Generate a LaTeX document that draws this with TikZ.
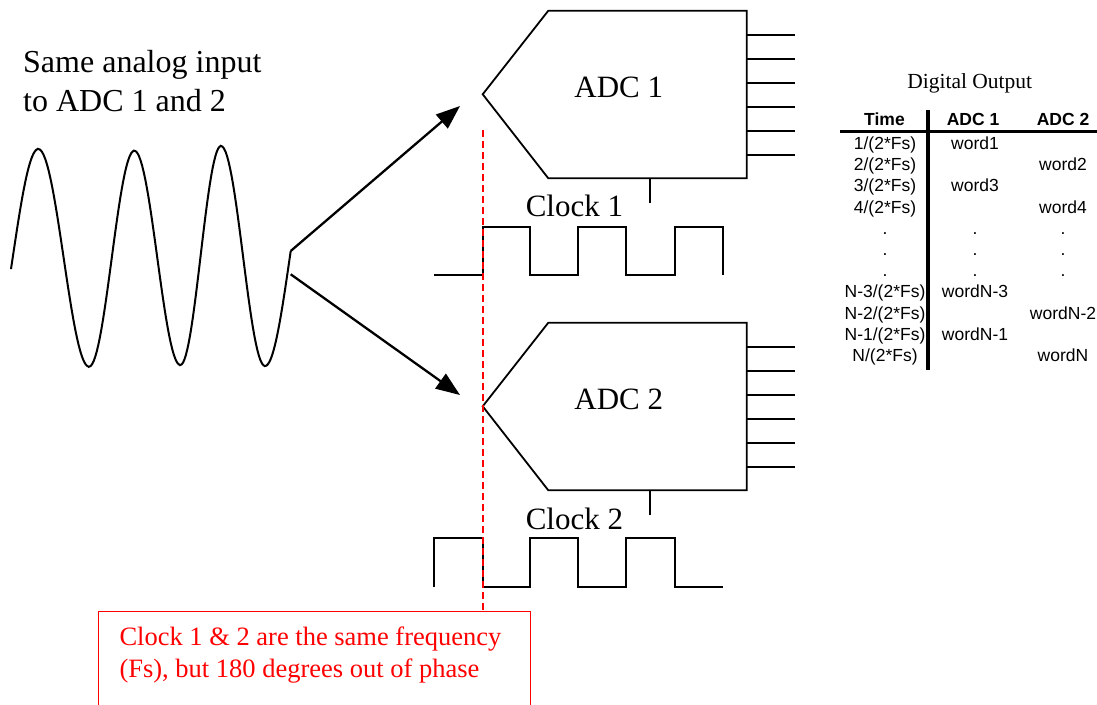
\documentclass[tikz,border=0pt]{standalone}
\usepackage{fontspec}
\setmainfont{Liberation Serif}
\newfontfamily\tabfont{Liberation Sans}
\usetikzlibrary{arrows.meta}

\begin{document}
\begin{tikzpicture}[
  x=1pt, y=-1pt,
  wire/.style={line width=1.8pt},
  arrow/.style={-{Triangle[length=24pt, width=18pt]}, line width=2.3pt},
  phase/.style={red, line width=1.5pt, dash pattern=on 7pt off 4pt},
  big/.style={font=\fontsize{31}{36}\selectfont, inner sep=0pt, anchor=base},
  title/.style={font=\fontsize{32}{38}\selectfont, inner sep=0pt, anchor=base west},
  note/.style={font=\fontsize{26.5}{32}\selectfont, text=red, inner sep=0pt, anchor=base west},
  cell/.style={font=\tabfont\fontsize{17.5}{20}\selectfont, inner sep=0pt, anchor=base},
  head/.style={cell, font=\tabfont\bfseries\fontsize{17.5}{20}\selectfont},
  rule/.style={line width=3.5pt},
]
\useasboundingbox (0,0) rectangle (1097,704);

% input signal
\node[title] (srcA) at (23,72.7) {Same analog input};
\node[title] (srcB) at (23,111) {to ADC 1 and 2};

\draw[wire, line width=2pt] (11,269)
  \foreach \xa/\ya/\xb/\yb/\xf/\xt in {-13/367/38.3/149/11/38.3,
      38.3/149/89/366.7/38.3/89, 89/366.7/134.3/150.7/89/134.3,
      134.3/150.7/180.3/365/134.3/180.3, 180.3/365/221/146/180.3/221,
      221/146/265/366/221/265, 265/366/314.4/150/265/290.7}
  { -- plot[domain=\xf:\xt, samples=30]
      (\x, {(\ya+\yb)/2 + (\ya-\yb)/2*cos(180*(\x-\xa)/(\xb-\xa))}) };

\coordinate (split1) at (290.7,251);
\coordinate (split2) at (290.7,274.3);
\coordinate (in1) at (460,106);
\coordinate (in2) at (460,395);
\draw[arrow] (split1) -- (in1);
\draw[arrow] (split2) -- (in2);

% the two converters
\foreach \n/\dy in {1/0, 2/312} {
  \begin{scope}[shift={(0,\dy)}]
    \draw[wire] (482.7,94.3) coordinate (tip\n) -- (548.3,10.7) -- (746.7,10.7)
      -- (746.7,178.3) -- (548.3,178.3) -- cycle;
    \node[big] (adc\n) at (618.8,97.3) {ADC \n};
    \foreach \k in {1,...,6}
      \draw[wire] (746.7,{10.7+24*\k}) -- (795,{10.7+24*\k});
    \draw[wire] (650,178.3) coordinate (clkpin\n) -- (650,203);
  \end{scope}
}

% clocks
\node[big] (clk1) at (574.4,216.7) {Clock 1};
\node[big] (clk2) at (574.4,529) {Clock 2};
\draw[wire] (434,275) -- (483,275) -- (483,227) -- (530,227) -- (530,275)
  -- (578,275) -- (578,227) -- (626,227) -- (626,275) -- (675,275)
  -- (675,227) -- (723,227) -- (723,275);
\draw[wire] (434,587) -- (434,538) -- (483,538) -- (483,587) -- (530,587)
  -- (530,538) -- (578,538) -- (578,587) -- (626,587) -- (626,538)
  -- (675,538) -- (675,587) -- (723,587);

% phase marker and note
\coordinate (phtop) at (483,130);
\coordinate (phbot) at (483,611.7);
\draw[phase] (phtop) -- (phbot);
\draw[red, line width=1.5pt] (98.3,730) -- (98.3,611.7) -- (530.7,611.7) -- (530.7,730);
\node[note] (note1) at (119.3,645) {Clock 1 \& 2 are the same frequency};
\node[note] (note2) at (119.3,677.3) {(Fs), but 180 degrees out of phase};

% output table
\node[font=\fontsize{21.5}{26}\selectfont, inner sep=0pt, anchor=base] (dout) at (969.7,88.3) {Digital Output};
\node[head] (hTime) at (884.5,125.7) {Time};
\node[head] (hAdcA) at (973,125.7) {ADC 1};
\node[head] (hAdcB) at (1063,125.7) {ADC 2};
\draw[rule] (840,131.5) -- (1097,131.5);
\draw[rule] (928,110) -- (928,370);
\foreach \t/\a/\b [count=\i] in {{1/(2*Fs)}/word1/{}, {2/(2*Fs)}/{}/word2,
    {3/(2*Fs)}/word3/{}, {4/(2*Fs)}/{}/word4, ././., ././., ././.,
    {N-3/(2*Fs)}/wordN-3/{}, {N-2/(2*Fs)}/{}/wordN-2,
    {N-1/(2*Fs)}/wordN-1/{}, {N/(2*Fs)}/{}/wordN} {
  \node[cell] (t\i) at (885,{149.3+21.24*(\i-1)}) {\t};
  \node[cell] (a\i) at (975,{149.3+21.24*(\i-1)}) {\a};
  \node[cell] (b\i) at (1063,{149.3+21.24*(\i-1)}) {\b};
}
\end{tikzpicture}
\end{document}
